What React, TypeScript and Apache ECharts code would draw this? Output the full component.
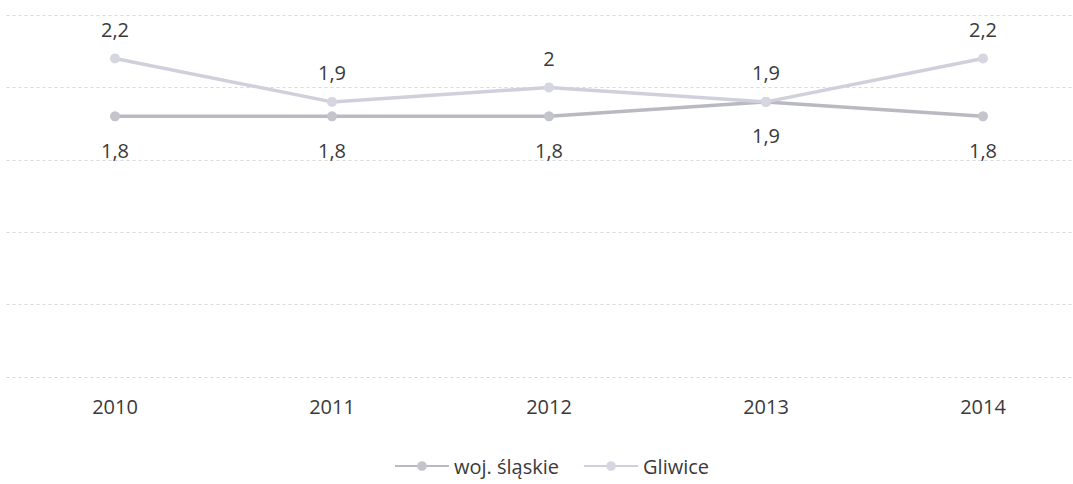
import React, { useEffect, useRef } from "react";
import * as echarts from "echarts";

const categories = ["2010", "2011", "2012", "2013", "2014"];
const slaskie = [1.8, 1.8, 1.8, 1.9, 1.8];
const gliwice = [2.2, 1.9, 2.0, 1.9, 2.2];
const seriesNames = ["woj. śląskie", "Gliwice"];

const FONT = "'Open Sans', 'Noto Sans', sans-serif";
const TEXT = "#3a3a3a";
const fmt = (v: number) => String(v).replace(".", ",");

export default function App() {
  const ref = useRef<HTMLDivElement>(null);
  useEffect(() => {
    if (!ref.current) return;
    const chart = echarts.init(ref.current, undefined, { renderer: "svg" });
    chart.setOption({
      animation: false,
      backgroundColor: "#ffffff",
      textStyle: { fontFamily: FONT },
      grid: {
        left: 6.5,
        top: 15,
        width: 1085,
        height: 362,
        containLabel: false,
        outerBoundsMode: "none",
      },
      legend: {
        top: 451,
        left: 389,
        itemWidth: 54,
        itemHeight: 12,
        itemGap: 24,
        textStyle: { fontFamily: FONT, fontSize: 20, color: TEXT },
        data: seriesNames,
      },
      xAxis: {
        type: "category",
        data: categories,
        boundaryGap: true,
        axisLine: { show: false },
        axisTick: { show: false },
        axisLabel: { margin: 19, fontFamily: FONT, fontSize: 20, color: TEXT },
      },
      yAxis: {
        type: "value",
        min: 0,
        max: 2.5,
        interval: 0.5,
        axisLabel: { show: false },
        axisLine: { show: false },
        axisTick: { show: false },
        splitLine: { lineStyle: { color: "#d8d8dc", type: [3, 3], width: 1 } },
      },
      series: [
        {
          name: seriesNames[0],
          type: "line",
          data: slaskie,
          symbol: "circle",
          symbolSize: 10,
          lineStyle: { color: "#b9b9c1", width: 3.5 },
          itemStyle: { color: "#c4c4cc" },
          label: {
            show: true,
            position: "bottom",
            distance: 19,
            formatter: (p: any) => fmt(p.value),
            fontFamily: FONT,
            fontSize: 20,
            color: TEXT,
          },
          z: 2,
        },
        {
          name: seriesNames[1],
          type: "line",
          data: gliwice,
          symbol: "circle",
          symbolSize: 10,
          lineStyle: { color: "#d0d0dc", width: 3.5 },
          itemStyle: { color: "#d6d6e0" },
          label: {
            show: true,
            position: "top",
            distance: 14,
            formatter: (p: any) => fmt(p.value),
            fontFamily: FONT,
            fontSize: 20,
            color: TEXT,
          },
          z: 3,
        },
      ],
    });
    return () => chart.dispose();
  }, []);
  return (
    <div
      ref={ref}
      style={{ position: "fixed", left: 0, top: 0, width: 1073, height: 484 }}
    />
  );
}
